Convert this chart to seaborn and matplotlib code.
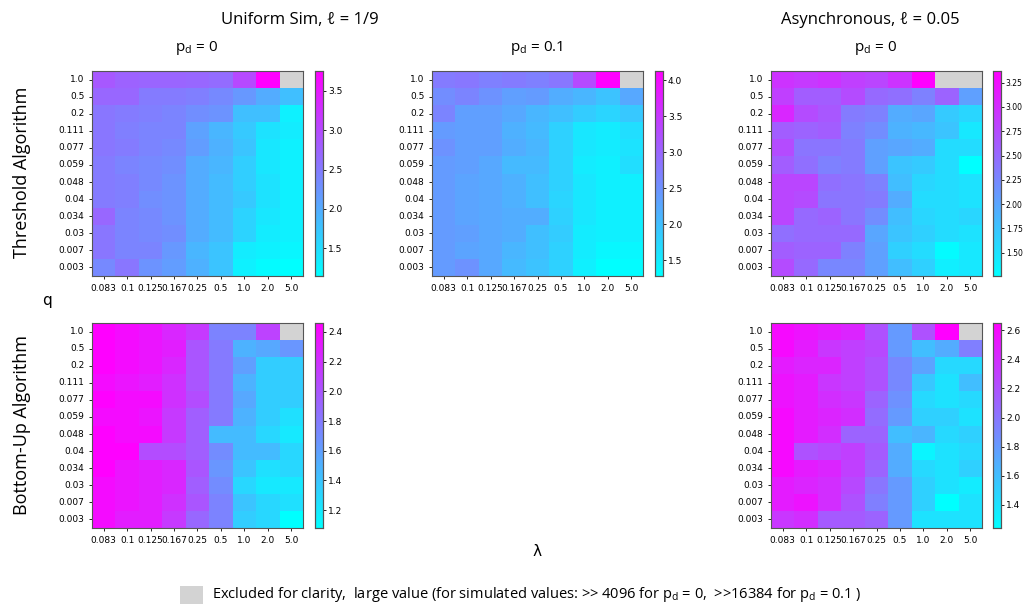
import numpy as np
import pandas as pd
import seaborn as sns
import matplotlib.pyplot as plt
from matplotlib.patches import Rectangle

nan = np.nan

lambdas = ["0.083", "0.1", "0.125", "0.167", "0.25", "0.5", "1.0", "2.0", "5.0"]
qs = ["1.0", "0.5", "0.2", "0.111", "0.077", "0.059", "0.048", "0.04", "0.034", "0.03", "0.007", "0.003"]

# Uniform sim, threshold algorithm, p_d = 0
uni_thr_pd0 = [
    [2.85, 2.75, 2.72, 2.72, 2.70, 2.65, 3.00, 3.75, nan],
    [2.70, 2.70, 2.50, 2.50, 2.45, 2.35, 2.20, 2.00, 1.80],
    [2.55, 2.50, 2.45, 2.40, 2.30, 2.25, 1.80, 1.80, 1.30],
    [2.55, 2.45, 2.40, 2.40, 2.10, 1.90, 1.70, 1.45, 1.35],
    [2.55, 2.50, 2.40, 2.35, 2.15, 1.95, 1.75, 1.40, 1.30],
    [2.50, 2.40, 2.35, 2.30, 2.00, 1.90, 1.65, 1.40, 1.30],
    [2.50, 2.45, 2.35, 2.25, 2.00, 1.85, 1.65, 1.45, 1.30],
    [2.50, 2.45, 2.30, 2.25, 2.00, 1.85, 1.70, 1.45, 1.30],
    [2.70, 2.40, 2.35, 2.25, 2.00, 1.85, 1.60, 1.40, 1.30],
    [2.55, 2.40, 2.35, 2.30, 2.00, 1.85, 1.60, 1.35, 1.30],
    [2.55, 2.40, 2.40, 2.20, 1.90, 1.75, 1.35, 1.30, 1.25],
    [2.35, 2.55, 2.25, 2.15, 1.95, 1.75, 1.30, 1.20, 1.15],
]

# Uniform sim, threshold algorithm, p_d = 0.1
uni_thr_pd01 = [
    [2.75, 2.80, 2.70, 2.75, 2.70, 2.80, 3.30, 4.13, nan],
    [2.55, 2.65, 2.50, 2.35, 2.40, 2.20, 2.10, 1.95, 2.25],
    [2.65, 2.35, 2.35, 2.25, 2.10, 2.00, 1.85, 1.75, 1.90],
    [2.40, 2.35, 2.35, 2.15, 2.05, 1.80, 1.55, 1.50, 1.65],
    [2.50, 2.35, 2.35, 2.20, 2.10, 1.80, 1.55, 1.50, 1.60],
    [2.40, 2.35, 2.25, 2.05, 2.05, 1.80, 1.50, 1.45, 1.65],
    [2.40, 2.30, 2.25, 2.15, 2.00, 1.80, 1.55, 1.45, 1.45],
    [2.40, 2.30, 2.25, 2.15, 2.00, 1.75, 1.55, 1.45, 1.45],
    [2.40, 2.30, 2.25, 2.20, 2.20, 1.80, 1.55, 1.45, 1.45],
    [2.40, 2.35, 2.25, 2.20, 2.00, 1.85, 1.50, 1.45, 1.45],
    [2.40, 2.30, 2.25, 2.10, 2.00, 1.80, 1.50, 1.38, 1.38],
    [2.40, 2.50, 2.25, 2.05, 1.95, 1.80, 1.45, 1.28, 1.32],
]

# Asynchronous, threshold algorithm, p_d = 0
asy_thr_pd0 = [
    [2.95, 2.90, 2.95, 2.85, 2.80, 2.95, 3.37, nan, nan],
    [2.85, 2.60, 2.60, 2.75, 2.50, 2.45, 2.30, 2.55, 2.05],
    [3.05, 2.75, 2.65, 2.35, 2.30, 1.95, 2.00, 1.70, 1.60],
    [2.60, 2.55, 2.60, 2.30, 2.20, 1.90, 1.85, 1.75, 1.45],
    [2.75, 2.40, 2.40, 2.35, 2.05, 2.00, 1.95, 1.55, 1.55],
    [2.60, 2.45, 2.30, 2.35, 2.05, 1.75, 1.70, 1.55, 1.26],
    [2.80, 2.80, 2.45, 2.40, 2.30, 1.80, 1.60, 1.55, 1.50],
    [2.80, 2.75, 2.40, 2.40, 2.35, 1.95, 1.55, 1.55, 1.50],
    [2.80, 2.50, 2.55, 2.40, 2.20, 1.80, 1.60, 1.55, 1.60],
    [2.45, 2.50, 2.50, 2.50, 2.00, 1.75, 1.65, 1.55, 1.50],
    [2.60, 2.55, 2.55, 2.30, 2.05, 1.65, 1.55, 1.30, 1.45],
    [2.75, 2.50, 2.25, 2.25, 2.05, 1.80, 1.65, 1.40, 1.45],
]

# Uniform sim, bottom-up algorithm, p_d = 0
uni_bu_pd0 = [
    [2.46, 2.40, 2.35, 2.25, 2.15, 1.75, 1.75, 2.10, nan],
    [2.45, 2.40, 2.35, 2.30, 2.00, 1.80, 1.50, 1.55, 1.65],
    [2.45, 2.40, 2.35, 2.25, 2.00, 1.80, 1.60, 1.35, 1.35],
    [2.40, 2.35, 2.30, 2.20, 2.00, 1.80, 1.50, 1.35, 1.35],
    [2.45, 2.40, 2.40, 2.20, 2.05, 1.80, 1.55, 1.35, 1.35],
    [2.40, 2.40, 2.35, 2.15, 1.95, 1.80, 1.50, 1.35, 1.25],
    [2.45, 2.40, 2.40, 2.15, 1.95, 1.45, 1.45, 1.30, 1.20],
    [2.45, 2.45, 2.05, 2.05, 1.95, 1.70, 1.45, 1.45, 1.30],
    [2.46, 2.35, 2.30, 2.25, 2.00, 1.65, 1.40, 1.25, 1.30],
    [2.40, 2.35, 2.30, 2.25, 1.95, 1.70, 1.30, 1.20, 1.20],
    [2.40, 2.35, 2.30, 2.20, 2.00, 1.75, 1.40, 1.30, 1.25],
    [2.40, 2.30, 2.30, 2.15, 1.90, 1.75, 1.35, 1.30, 1.08],
]

# Asynchronous, bottom-up algorithm, p_d = 0
asy_bu_pd0 = [
    [2.60, 2.55, 2.50, 2.45, 2.20, 1.80, 2.20, 2.65, nan],
    [2.60, 2.50, 2.35, 2.30, 2.25, 1.80, 1.60, 1.70, 1.95],
    [2.50, 2.45, 2.45, 2.30, 2.20, 1.90, 1.75, 1.45, 1.45],
    [2.55, 2.50, 2.35, 2.30, 2.20, 1.90, 1.55, 1.40, 1.60],
    [2.55, 2.50, 2.40, 2.35, 2.10, 1.85, 1.45, 1.40, 1.45],
    [2.60, 2.50, 2.45, 2.40, 2.05, 1.80, 1.50, 1.50, 1.40],
    [2.60, 2.50, 2.40, 2.10, 2.10, 1.60, 1.65, 1.45, 1.50],
    [2.60, 2.20, 2.25, 2.30, 2.15, 1.70, 1.30, 1.40, 1.45],
    [2.60, 2.50, 2.45, 2.30, 2.10, 1.70, 1.45, 1.40, 1.50],
    [2.50, 2.45, 2.40, 2.25, 2.00, 1.80, 1.50, 1.40, 1.35],
    [2.50, 2.55, 2.40, 2.20, 1.95, 1.80, 1.50, 1.24, 1.40],
    [2.35, 2.40, 2.15, 2.15, 2.10, 1.80, 1.40, 1.40, 1.40],
]

W, H = 1026, 606
fig = plt.figure(figsize=(W / 100, H / 100), dpi=100)


def px_axes(x0, y0, x1, y1):
    # pixel box (top-left origin) -> figure fraction
    return fig.add_axes([x0 / W, 1 - y1 / H, (x1 - x0) / W, (y1 - y0) / H])


def draw(data, hx, hy, cx, ticks, cb_size=6.5):
    ax = px_axes(hx, hy, hx + 211, hy + 205)
    cax = px_axes(cx, hy, cx + 8, hy + 205)
    df = pd.DataFrame(data, index=qs, columns=lambdas)
    sns.heatmap(df, ax=ax, cbar_ax=cax, cmap="cool", cbar_kws={"ticks": ticks})
    ax.set_facecolor("#d3d3d3")
    for s in ax.spines.values():
        s.set_visible(True)
        s.set_color("#555555")
        s.set_linewidth(0.8)
    ax.tick_params(labelsize=6.5, length=2, width=0.6)
    ax.set_yticklabels(qs, rotation=0)
    ax.set_xticklabels(lambdas, rotation=0)
    ax.set_xlabel("")
    ax.set_ylabel("")
    cax.tick_params(labelsize=cb_size, length=2, width=0.6, pad=1.5)
    for s in cax.spines.values():
        s.set_visible(True)
        s.set_color("#555555")
        s.set_linewidth(0.8)
    return ax


draw(uni_thr_pd0, 92, 71, 315, [1.5, 2.0, 2.5, 3.0, 3.5])
draw(uni_thr_pd01, 432, 71, 655, [1.5, 2.0, 2.5, 3.0, 3.5, 4.0])
draw(asy_thr_pd0, 771, 71, 993, [1.5, 1.75, 2.0, 2.25, 2.5, 2.75, 3.0, 3.25], cb_size=5.5)
draw(uni_bu_pd0, 92, 323, 315, [1.2, 1.4, 1.6, 1.8, 2.0, 2.2, 2.4])
draw(asy_bu_pd0, 771, 323, 993, [1.4, 1.6, 1.8, 2.0, 2.2, 2.4, 2.6])

tf = "Open Sans"
fig.text(300 / W, 1 - 20 / H, "Uniform Sim, ℓ = 1/9", ha="center", va="center", fontsize=12, family=tf)
fig.text(870 / W, 1 - 20 / H, "Asynchronous, ℓ = 0.05", ha="center", va="center", fontsize=12, family=tf)
for x, lab in [(197, "0"), (537, "0.1"), (876, "0")]:
    fig.text(x / W, 1 - 48 / H, r"p$_\mathregular{d}$ = " + lab, ha="center", va="center", fontsize=11, family=tf)
fig.text(22 / W, 1 - 172 / H, "Threshold Algorithm", rotation=90, ha="center", va="center", fontsize=13, family=tf)
fig.text(22 / W, 1 - 425 / H, "Bottom-Up Algorithm", rotation=90, ha="center", va="center", fontsize=13, family=tf)
fig.text(47 / W, 1 - 300 / H, "q", ha="center", va="center", fontsize=11)
fig.text(537 / W, 1 - 552 / H, "λ", ha="center", va="center", fontsize=11)

fig.patches.append(Rectangle((180 / W, 1 - 604 / H), 23 / W, 18 / H, transform=fig.transFigure,
                             facecolor="#d3d3d3", edgecolor="none"))
fig.text(212 / W, 1 - 595 / H,
         r"Excluded for clarity,  large value (for simulated values: >> 4096 for p$_\mathregular{d}$ = 0,  >>16384 for p$_\mathregular{d}$ = 0.1 )",
         ha="left", va="center", fontsize=10.5, family=tf)

fig.savefig("out.png", dpi=100)
